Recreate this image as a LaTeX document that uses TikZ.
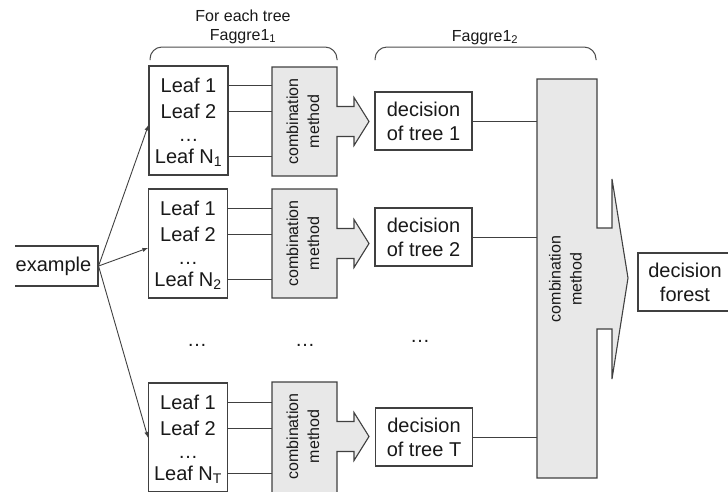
\documentclass[tikz,border=0pt]{standalone}
\usepackage{fontspec}
\setmainfont{Liberation Sans}
\usepackage{graphicx}
\usepackage{tikz}

\begin{document}
\begin{tikzpicture}[x=1pt,y=-1pt,>=latex,
  every node/.style={text=black!90},
  leafbox/.style={draw=black!75,line width=1.1pt,minimum width=79pt,minimum height=109pt,inner sep=0pt},
  leaf/.style={inner sep=0pt,text height=14pt,text depth=0pt,font=\fontsize{20}{24}\selectfont},
  dots/.style={inner sep=0pt,anchor=base,font=\fontsize{20}{24}\selectfont},
  combo/.style={fill=black!9,draw=black!75,line width=1.1pt},
  combotext/.style={inner sep=0pt,minimum width=65pt,minimum height=109pt,font=\fontsize{16}{21}\selectfont},
  dec/.style={draw=black!75,line width=1.1pt,minimum width=97pt,minimum height=58pt,inner sep=0pt,align=center,font=\fontsize{20}{24}\selectfont},
  conn/.style={draw=black!75,line width=0.9pt},
  brace/.style={draw=black!70,line width=1pt,rounded corners=12pt},
  toplabel/.style={inner sep=0pt,anchor=base,font=\fontsize{16}{19}\selectfont}]
\useasboundingbox (0,0) rectangle (728,491);
\clip (15,0) rectangle (728,491);

\filldraw[combo] (272,67) -- (337,67) -- (337,106.5) -- (354,106.5) -- (354,97.5) -- (369,121.5)
  -- (354,145.5) -- (354,136.5) -- (337,136.5) -- (337,176) -- (272,176) -- cycle;
\filldraw[combo] (272,189) -- (337,189) -- (337,228.5) -- (354,228.5) -- (354,219.5) -- (369,243.5)
  -- (354,267.5) -- (354,258.5) -- (337,258.5) -- (337,298) -- (272,298) -- cycle;
\filldraw[combo] (272,382) -- (337,382) -- (337,421.5) -- (354,421.5) -- (354,412.5) -- (369,436.5)
  -- (354,460.5) -- (354,451.5) -- (337,451.5) -- (337,495) -- (272,495) -- cycle;
\filldraw[combo] (537,79) -- (597,79) -- (597,228) -- (612,228) -- (612,179) -- (628,278)
  -- (612,379) -- (612,329) -- (597,329) -- (597,478) -- (537,478) -- cycle;

\node[dec,minimum width=89pt,minimum height=40pt] (ex) at (53.5,266) {example};

\node[leafbox] (b1) at (188.5,120.5) {};
\node[leaf] (l11) at (188.5,85) {Leaf 1};
\node[leaf] (l12) at (188.5,111) {Leaf 2};
\node[dots] (l1d) at (188.5,141.5) {\ldots};
\node[leaf] (l1n) at (188.5,156) {Leaf N\textsubscript{1}};

\node[leafbox] (b2) at (188,243.5) {};
\node[leaf] (l21) at (188,208) {Leaf 1};
\node[leaf] (l22) at (188,234) {Leaf 2};
\node[dots] (l2d) at (188,264.5) {\ldots};
\node[leaf] (l2n) at (188,279) {Leaf N\textsubscript{2}};

\node[leafbox] (bT) at (188,437.5) {};
\node[leaf] (lT1) at (188,402) {Leaf 1};
\node[leaf] (lT2) at (188,428) {Leaf 2};
\node[dots] (lTd) at (188,458.5) {\ldots};
\node[leaf] (lTn) at (188,473) {Leaf N\textsubscript{T}};

\node[combotext] (c1) at (304.5,121.5) {\rotatebox{90}{\begin{tabular}{@{}c@{}}combination\\method\end{tabular}}};
\node[combotext] (c2) at (304.5,243.5) {\rotatebox{90}{\begin{tabular}{@{}c@{}}combination\\method\end{tabular}}};
\node[combotext] (cT) at (304.5,436.5) {\rotatebox{90}{\begin{tabular}{@{}c@{}}combination\\method\end{tabular}}};
\node[combotext,minimum width=60pt,minimum height=399pt] (cf) at (567,279) {\rotatebox{90}{\begin{tabular}{@{}c@{}}combination\\method\end{tabular}}};

\node[dec] (d1) at (423.5,121) {decision\\of tree 1};
\node[dec] (d2) at (423.5,237) {decision\\of tree 2};
\node[dec] (dT) at (424,437) {decision\\of tree T};
\node[dec,minimum width=94pt] (forest) at (685,282) {decision\\forest};

\node[dots] (m1) at (197,346.5) {\ldots};
\node[dots] (m2) at (305,346.5) {\ldots};
\node[dots] (m3) at (420,342.5) {\ldots};

\draw[conn,->] (ex.east) -- ([yshift=-4.5pt]b1.west);
\draw[conn,->] (ex.east) -- ([yshift=-4.5pt]b2.west);
\draw[conn,->] (ex.east) -- (bT.west);

\draw[conn] (b1.east |- l11) -- (c1.west |- l11);
\draw[conn] (b1.east |- l12) -- (c1.west |- l12);
\draw[conn] (b1.east |- l1n) -- (c1.west |- l1n);
\draw[conn] (b2.east |- l21) -- (c2.west |- l21);
\draw[conn] (b2.east |- l22) -- (c2.west |- l22);
\draw[conn] (b2.east |- l2n) -- (c2.west |- l2n);
\draw[conn] (bT.east |- lT1) -- (cT.west |- lT1);
\draw[conn] (bT.east |- lT2) -- (cT.west |- lT2);
\draw[conn] (bT.east |- lTn) -- (cT.west |- lTn);

\draw[conn] (d1.east) -- (d1.east -| cf.west);
\draw[conn] (d2.east) -- (d2.east -| cf.west);
\draw[conn] (dT.east) -- (dT.east -| cf.west);

\draw[brace] (150,60) -- (150,47) -- (337,47) -- (337,60);
\draw[brace] (375,60) -- (375,47) -- (596,47) -- (596,60);
\node[toplabel] (each) at (243,21) {For each tree};
\node[toplabel] (fa1) at (243,40) {Faggre1\textsubscript{1}};
\node[toplabel] (fa2) at (485,41) {Faggre1\textsubscript{2}};
\end{tikzpicture}
\end{document}
